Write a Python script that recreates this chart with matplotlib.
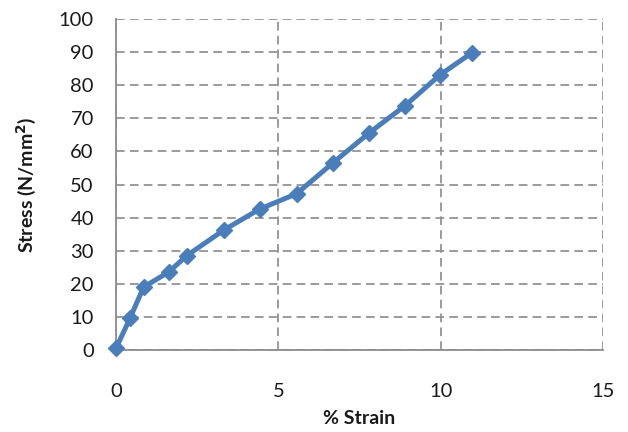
import matplotlib
matplotlib.use("Agg")
import matplotlib.pyplot as plt

# strain (%) vs stress (N/mm^2) readings
strain = [0.0, 0.44, 0.85, 1.63, 2.18, 3.33, 4.43, 5.56, 6.69, 7.8, 8.9, 9.99, 10.95]
stress = [0.5, 9.8, 19.0, 23.6, 28.5, 36.3, 42.6, 47.2, 56.6, 65.6, 73.8, 83.2, 89.7]

x_ticks = [0, 5, 10, 15]
y_ticks = list(range(0, 101, 10))

plt.rcParams['font.family'] = ['Lato', 'DejaVu Sans']

fig = plt.figure(figsize=(6.28, 4.32), dpi=100)
ax = fig.add_axes([0.1847, 0.1898, 0.7755, 0.7662])

ax.plot(strain, stress, color='#4A7EBB', linewidth=3.6, marker='D',
        markersize=8.5, markeredgewidth=1, markeredgecolor='#4A7EBB',
        clip_on=False, zorder=3)

ax.set_xlim(0, 15)
ax.set_ylim(0, 100)
ax.set_xticks(x_ticks)
ax.set_yticks(y_ticks)

ax.grid(True, color='#8f8f8f', linestyle=(0, (5, 3)), linewidth=1.25)
ax.set_axisbelow(True)

for side in ['top', 'right']:
    ax.spines[side].set_visible(False)
for side in ['left', 'bottom']:
    ax.spines[side].set_color('#8c8c8c')
    ax.spines[side].set_linewidth(1.3)

ax.tick_params(axis='both', length=0, labelsize=14.5, labelcolor='#1a1a1a')
ax.tick_params(axis='y', pad=16)
ax.tick_params(axis='x', pad=24)

ax.set_xlabel('% Strain', fontsize=14, fontweight='bold', color='#1a1a1a')
ax.set_ylabel('Stress (N/mm$^\\mathbf{2}$)', fontsize=14, fontweight='bold', color='#1a1a1a')
ax.xaxis.set_label_coords(0.5, -0.18)
ax.yaxis.set_label_coords(-0.16, 0.5)

fig.savefig('out.png', dpi=100)
